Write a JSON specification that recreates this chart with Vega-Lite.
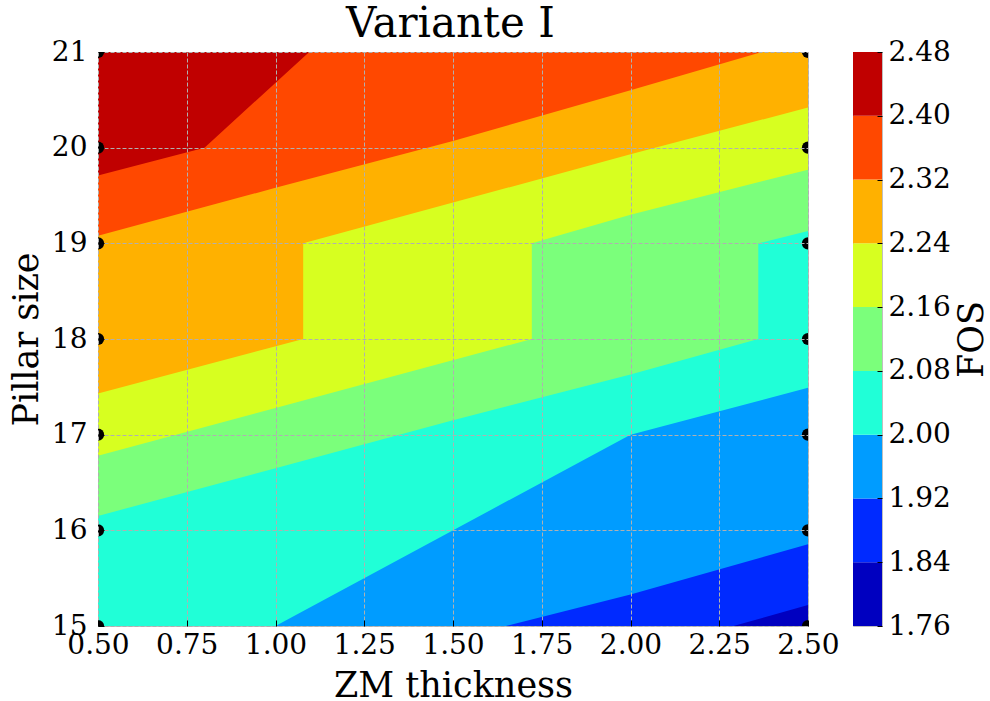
{
  "$schema": "https://vega.github.io/schema/vega-lite/v6.json",
  "background": "white",
  "padding": {"left": 8, "top": 2, "right": 0, "bottom": 0},
  "title": {"text": "Variante I", "fontSize": 42, "font": "DejaVu Serif", "fontWeight": "normal", "anchor": "middle", "baseline": "alphabetic", "offset": -41, "dx": -49, "color": "black"},
  "config": {
    "font": "DejaVu Serif",
    "view": {"stroke": "#bfbfbf", "strokeWidth": 1},
    "area": {"opacity": 1, "interpolate": "linear"},
    "axis": {
      "labelFont": "DejaVu Serif", "titleFont": "DejaVu Serif",
      "labelColor": "black", "titleColor": "black", "titleFontWeight": "normal",
      "domain": false, "tickColor": "black", "tickWidth": 1,
      "labelFlush": false, "labelOverlap": false, "zindex": 1,
      "gridColor": "#b0b0b0", "gridDash": [4, 2], "gridOpacity": 1, "gridWidth": 1
    }
  },
  "datasets": {
    "contours": [
      {"band": "2.40", "x": 0.5, "y": 21},
      {"band": "2.40", "x": 2.5, "y": 21},
      {"band": "2.32", "x": 0.5, "y": 19.71},
      {"band": "2.32", "x": 0.8, "y": 20.0},
      {"band": "2.32", "x": 1.095, "y": 21},
      {"band": "2.32", "x": 2.5, "y": 21},
      {"band": "2.24", "x": 0.5, "y": 19.08},
      {"band": "2.24", "x": 1.0, "y": 19.58},
      {"band": "2.24", "x": 1.5, "y": 20.07},
      {"band": "2.24", "x": 2.0, "y": 20.6},
      {"band": "2.24", "x": 2.37, "y": 21},
      {"band": "2.24", "x": 2.5, "y": 21},
      {"band": "2.16", "x": 0.5, "y": 17.43},
      {"band": "2.16", "x": 1.078, "y": 18.0},
      {"band": "2.16", "x": 1.078, "y": 19.0},
      {"band": "2.16", "x": 2.0, "y": 19.93},
      {"band": "2.16", "x": 2.5, "y": 20.42},
      {"band": "2.08", "x": 0.5, "y": 16.78},
      {"band": "2.08", "x": 1.0, "y": 17.28},
      {"band": "2.08", "x": 1.722, "y": 18.0},
      {"band": "2.08", "x": 1.722, "y": 19.0},
      {"band": "2.08", "x": 2.0, "y": 19.3},
      {"band": "2.08", "x": 2.5, "y": 19.77},
      {"band": "2.00", "x": 0.5, "y": 16.15},
      {"band": "2.00", "x": 1.0, "y": 16.65},
      {"band": "2.00", "x": 1.5, "y": 17.15},
      {"band": "2.00", "x": 2.0, "y": 17.63},
      {"band": "2.00", "x": 2.36, "y": 18.0},
      {"band": "2.00", "x": 2.36, "y": 19.0},
      {"band": "2.00", "x": 2.5, "y": 19.13},
      {"band": "1.92", "x": 0.5, "y": 15},
      {"band": "1.92", "x": 1.0, "y": 15},
      {"band": "1.92", "x": 2.0, "y": 17.0},
      {"band": "1.92", "x": 2.5, "y": 17.49},
      {"band": "1.84", "x": 0.5, "y": 15},
      {"band": "1.84", "x": 1.649, "y": 15},
      {"band": "1.84", "x": 2.0, "y": 15.33},
      {"band": "1.84", "x": 2.5, "y": 15.855},
      {"band": "1.76", "x": 0.5, "y": 15},
      {"band": "1.76", "x": 2.29, "y": 15},
      {"band": "1.76", "x": 2.5, "y": 15.22}
    ],
    "dots": [
      {"x": 0.5, "y": 15}, {"x": 0.5, "y": 16}, {"x": 0.5, "y": 17}, {"x": 0.5, "y": 18},
      {"x": 0.5, "y": 19}, {"x": 0.5, "y": 20}, {"x": 0.5, "y": 21},
      {"x": 2.5, "y": 15}, {"x": 2.5, "y": 16}, {"x": 2.5, "y": 17}, {"x": 2.5, "y": 18},
      {"x": 2.5, "y": 19}, {"x": 2.5, "y": 20}, {"x": 2.5, "y": 21}
    ],
    "bands": [
      {"band": "1.76", "lo": 1.76, "hi": 1.84},
      {"band": "1.84", "lo": 1.84, "hi": 1.92},
      {"band": "1.92", "lo": 1.92, "hi": 2.00},
      {"band": "2.00", "lo": 2.00, "hi": 2.08},
      {"band": "2.08", "lo": 2.08, "hi": 2.16},
      {"band": "2.16", "lo": 2.16, "hi": 2.24},
      {"band": "2.24", "lo": 2.24, "hi": 2.32},
      {"band": "2.32", "lo": 2.32, "hi": 2.40},
      {"band": "2.40", "lo": 2.40, "hi": 2.48}
    ]
  },
  "spacing": 12,
  "hconcat": [
    {
      "width": 710,
      "height": 574,
      "data": {"name": "contours"},
      "encoding": {
        "x": {"field": "x", "type": "quantitative",
          "scale": {"domain": [0.5, 2.5], "nice": false, "zero": false},
          "axis": {"values": [0.5, 0.75, 1.0, 1.25, 1.5, 1.75, 2.0, 2.25, 2.5], "format": ".2f",
            "title": "ZM thickness", "labelFontSize": 28, "titleFontSize": 35, "zindex": 1,
            "tickSize": -6, "labelPadding": 11, "titleBaseline": "alphabetic", "titlePadding": 37}},
        "y": {"field": "y", "type": "quantitative", "stack": null,
          "scale": {"domain": [15, 21], "nice": false, "zero": false},
          "axis": {"values": [15, 16, 17, 18, 19, 20, 21], "format": "d",
            "title": "Pillar size", "labelFontSize": 28, "titleFontSize": 35, "zindex": 1,
            "tickSize": -6, "labelPadding": 17, "titleBaseline": "alphabetic", "titlePadding": 14}}
      },
      "layer": [
        {"transform": [{"filter": "datum.band == '2.40'"}], "mark": {"type": "area", "color": "#c00000"}},
        {"transform": [{"filter": "datum.band == '2.32'"}], "mark": {"type": "area", "color": "#ff4800"}},
        {"transform": [{"filter": "datum.band == '2.24'"}], "mark": {"type": "area", "color": "#ffb100"}},
        {"transform": [{"filter": "datum.band == '2.16'"}], "mark": {"type": "area", "color": "#d7ff20"}},
        {"transform": [{"filter": "datum.band == '2.08'"}], "mark": {"type": "area", "color": "#7bff7b"}},
        {"transform": [{"filter": "datum.band == '2.00'"}], "mark": {"type": "area", "color": "#20ffd7"}},
        {"transform": [{"filter": "datum.band == '1.92'"}], "mark": {"type": "area", "color": "#009cff"}},
        {"transform": [{"filter": "datum.band == '1.84'"}], "mark": {"type": "area", "color": "#002aff"}},
        {"transform": [{"filter": "datum.band == '1.76'"}], "mark": {"type": "area", "color": "#0000c0"}},
        {
          "data": {"name": "dots"},
          "mark": {"type": "circle", "clip": true, "size": 150, "color": "black", "opacity": 1},
          "encoding": {
            "x": {"field": "x", "type": "quantitative"},
            "y": {"field": "y", "type": "quantitative"}
          }
        }
      ]
    },
    {
      "width": 29,
      "height": 574,
      "data": {"name": "bands"},
      "mark": {"type": "rect"},
      "encoding": {
        "y": {"field": "lo", "type": "quantitative",
          "scale": {"domain": [1.76, 2.48], "nice": false, "zero": false},
          "axis": {"orient": "right", "values": [1.76, 1.84, 1.92, 2.0, 2.08, 2.16, 2.24, 2.32, 2.4, 2.48], "format": ".2f",
            "title": "FOS", "titleAngle": 270, "titleBaseline": "top", "titlePadding": 4, "grid": false, "zindex": 1,
            "tickSize": -5, "labelPadding": 11, "labelFontSize": 28, "titleFontSize": 35}},
        "y2": {"field": "hi"},
        "color": {"field": "band", "type": "nominal",
          "scale": {"domain": ["1.76", "1.84", "1.92", "2.00", "2.08", "2.16", "2.24", "2.32", "2.40"],
            "range": ["#0000c0", "#002aff", "#009cff", "#20ffd7", "#7bff7b", "#d7ff20", "#ffb100", "#ff4800", "#c00000"]},
          "legend": null}
      }
    }
  ]
}
